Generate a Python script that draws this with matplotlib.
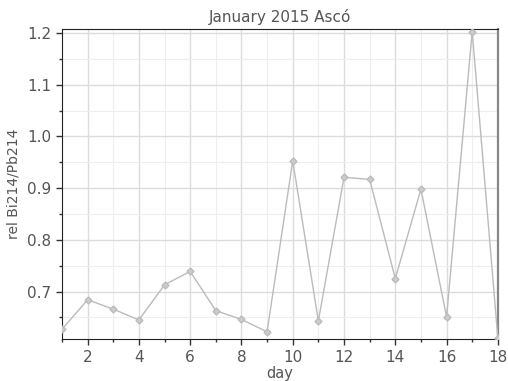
import matplotlib
matplotlib.use('Agg')
import matplotlib.pyplot as plt
from matplotlib.ticker import MultipleLocator

days = list(range(1, 19))
ratio = [0.627, 0.684, 0.666, 0.645, 0.713, 0.739, 0.663, 0.646, 0.622,
         0.953, 0.643, 0.921, 0.917, 0.725, 0.898, 0.651, 1.203, 0.610]

plt.rcParams['font.family'] = ['DejaVu Sans']
txt = '#555555'

fig = plt.figure(figsize=(5.08, 3.81), dpi=100)
ax = fig.add_axes([0.122, 0.110, 0.858, 0.814])

ax.plot(days, ratio, color='#bbbbbb', lw=1.0, marker='D', ms=3.5,
        markerfacecolor='#cccccc', markeredgecolor='#bbbbbb', zorder=3)

ax.set_xlim(1, 18)
ax.set_ylim(0.608, 1.208)
ax.xaxis.set_major_locator(MultipleLocator(2))
ax.xaxis.set_minor_locator(MultipleLocator(1))
ax.yaxis.set_major_locator(MultipleLocator(0.1))
ax.yaxis.set_minor_locator(MultipleLocator(0.05))
ax.grid(which='major', color='#dcdcdc', lw=1.0)
ax.grid(which='minor', color='#eeeeee', lw=0.8)
ax.set_axisbelow(True)

ax.tick_params(which='major', length=4, width=1, colors='#333333',
               labelcolor=txt, labelsize=11)
ax.tick_params(which='minor', length=2, width=1, colors='#333333')
for s in ['left', 'bottom', 'top']:
    ax.spines[s].set_color('#222222')
ax.spines['right'].set_color('#888888')
ax.spines['right'].set_linewidth(1.6)

ax.set_title('January 2015 Ascó', fontsize=11, color=txt, pad=5)
ax.set_xlabel('day', fontsize=10.5, color=txt, labelpad=1)
ax.set_ylabel('rel Bi214/Pb214', fontsize=10, color=txt, labelpad=5)

fig.savefig('out.png', dpi=100)
plt.close(fig)
